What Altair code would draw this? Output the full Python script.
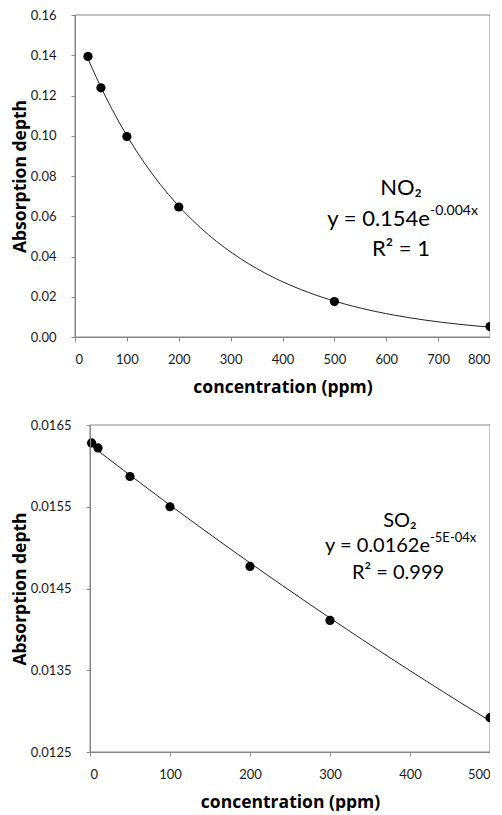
import altair as alt
import pandas as pd

# ---- data ----
no2_conc = [25, 50, 100, 200, 500, 800]
no2_depth = [0.1394, 0.1238, 0.0996, 0.0646, 0.0176, 0.0052]

so2_conc = [2, 10, 50, 100, 200, 300, 500]
so2_depth = [0.01628, 0.01622, 0.01587, 0.01550, 0.01477, 0.01411, 0.01292]

no2_x_ticks = [0, 100, 200, 300, 400, 500, 600, 700, 800]
no2_y_ticks = [0.00, 0.02, 0.04, 0.06, 0.08, 0.10, 0.12, 0.14, 0.16]
so2_x_ticks = [0, 100, 200, 300, 400, 500]
so2_y_ticks = [0.0125, 0.0135, 0.0145, 0.0155, 0.0165]

no2_labels = ["NO₂", "y = 0.154e", "-0.004x", "R² = 1"]
so2_labels = ["SO₂", "y = 0.0162e", "-5E-04x", "R² = 0.999"]

x_title = "concentration (ppm)"
y_title = "Absorption depth"

FONT = "Lato"
TFONT = "Open Sans"
GRAY = "#868686"
W = 415


def panel(conc, depth, xt, yt, yfmt, labels, h, inset, lab_pos, fs, sfs):
    df = pd.DataFrame({"conc": conc, "depth": depth})
    xs = alt.Scale(domain=[xt[0], xt[-1]], nice=False, zero=False,
                   range=[inset, W])
    ys = alt.Scale(domain=[yt[0], yt[-1]], nice=False, zero=False)
    common = dict(grid=False, domain=True, domainColor=GRAY, domainWidth=1,
                  domainOpacity=1, zindex=1)
    xax = alt.Axis(values=xt, title=x_title, format="d",
                   labelFontSize=13, labelPadding=12, titlePadding=12,
                   ticks=True, tickColor=GRAY, tickSize=4, **common)
    yax = alt.Axis(values=yt, title=y_title, format=yfmt,
                   labelFontSize=13, labelPadding=15, titlePadding=1,
                   ticks=True, tickColor=GRAY, tickSize=4,
                   offset=-inset, **common)
    base = alt.Chart(df)
    pts = base.mark_circle(size=85, color="black", opacity=1).encode(
        x=alt.X("conc:Q", scale=xs, axis=xax),
        y=alt.Y("depth:Q", scale=ys, axis=yax),
    )
    fit = base.transform_regression(
        "conc", "depth", method="exp"
    ).mark_line(color="#222222", strokeWidth=1).encode(
        x=alt.X("conc:Q", scale=xs),
        y=alt.Y("depth:Q", scale=ys),
    )
    tdf = pd.DataFrame({"t": [0]})
    # plot-area frame (decoration)
    frame = alt.Chart(tdf).mark_rect(
        fillOpacity=0, stroke=GRAY, strokeWidth=1
    ).encode(
        x=alt.value(inset), x2=alt.value(W),
        y=alt.value(0), y2=alt.value(h),
    )
    (cx, y1), (ax_, y2), (cx3, y3) = lab_pos
    t1 = alt.Chart(tdf).mark_text(text=labels[0], font=FONT, fontSize=fs,
                                  align="center", baseline="middle",
                                  color="black").encode(
        x=alt.value(cx), y=alt.value(y1))
    t2 = alt.Chart(tdf).mark_text(text=labels[1], font=FONT, fontSize=fs,
                                  align="right", baseline="middle",
                                  color="black").encode(
        x=alt.value(ax_), y=alt.value(y2))
    t2s = alt.Chart(tdf).mark_text(text=labels[2], font=FONT, fontSize=sfs,
                                   align="left", baseline="middle",
                                   color="black").encode(
        x=alt.value(ax_), y=alt.value(y2 - 8))
    t3 = alt.Chart(tdf).mark_text(text=labels[3], font=FONT, fontSize=fs,
                                  align="center", baseline="middle",
                                  color="black").encode(
        x=alt.value(cx3), y=alt.value(y3))
    return alt.layer(frame, fit, pts, t1, t2, t2s, t3).properties(
        width=W, height=h)


top = panel(no2_conc, no2_depth, no2_x_ticks, no2_y_ticks, ".2f",
            no2_labels, 322, 0,
            [(326, 173), (355, 204), (326, 234)], 22, 14)
bottom = panel(so2_conc, so2_depth, so2_x_ticks, so2_y_ticks, ".4f",
               so2_labels, 327, 15,
               [(325, 96), (355, 121), (323, 148)], 20, 13)

chart = alt.vconcat(top, bottom, spacing=23).properties(
    padding={"left": 3, "top": 1, "right": -5, "bottom": 0},
    background="white",
).configure_view(
    strokeWidth=0
).configure_axis(
    labelFont=FONT, labelColor="#1a1a1a",
    titleFont=TFONT, titleFontSize=17.5, titleFontWeight="bold",
    titleColor="black",
)

chart.save("out.html", embed_options={"renderer": "svg", "actions": False})
